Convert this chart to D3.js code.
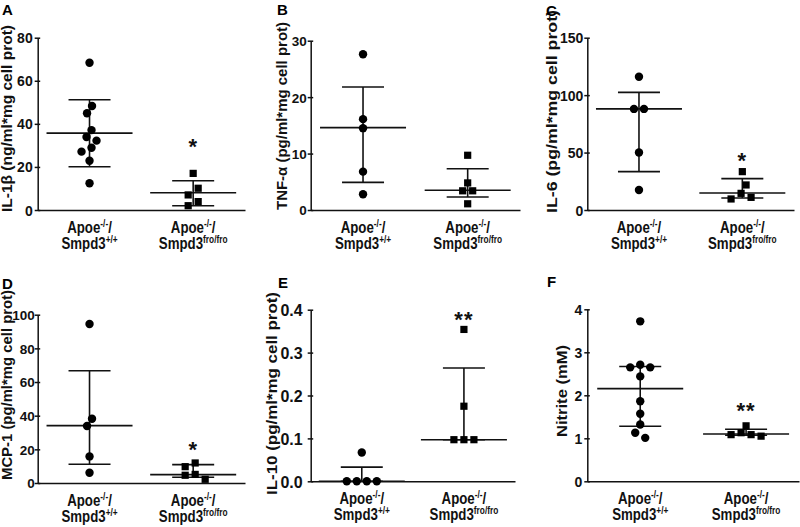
<!DOCTYPE html>
<html><head><meta charset="utf-8">
<script src="https://cdn.jsdelivr.net/npm/d3@7/dist/d3.min.js"></script>
<style>body{margin:0;background:#fff}svg{display:block}</style>
</head><body>
<svg id="chart" width="800" height="527"></svg>
<script>
// ---------------- data ----------------
const panelLetters = ["A", "B", "C", "D", "E", "F"];
const yLabels = [
  "IL-1β (ng/ml*mg cell prot)",
  "TNF-α (pg/ml*mg cell prot)",
  "IL-6 (pg/ml*mg cell prot)",
  "MCP-1 (pg/ml*mg cell prot)",
  "IL-10 (pg/ml*mg cell prot)",
  "Nitrite (mM)"
];
const yTicks = [
  [0, 20, 40, 60, 80],
  [0, 10, 20, 30],
  [0, 50, 100, 150],
  [0, 20, 40, 60, 80, 100],
  [0, 0.1, 0.2, 0.3, 0.4],
  [0, 1, 2, 3, 4]
];
const yTickFormats = ["d", "d", "d", "d", ".1f", "d"];
const genotypeBase = ["Apoe", "Smpd3"];
const apoeSup = ["-/-", "-/-"];
const smpd3Sup = ["+/+", "fro/fro"];

const wildtypeValues = [
  [68.4, 48.3, 44.9, 37.1, 33.9, 32.2, 28.9, 27.1, 22.9, 12.4],
  [27.6, 16.1, 14.5, 6.8, 2.8],
  [116, 88, 88, 50, 17.4],
  [94.5, 38.2, 33.9, 15.8, 6.1],
  [0.067, 0, 0, 0, 0],
  [3.72, 2.71, 2.65, 2.65, 2.44, 1.86, 1.57, 1.32, 1.13, 1.01]
];
const knockoutValues = [
  [17.0, 10.1, 7.0, 3.9, 2.0],
  [9.7, 4.8, 3.4, 3.4, 1.1],
  [33.4, 21.8, 14.5, 11.0, 9.6],
  [11.9, 9.7, 5.1, 4.6, 2.2],
  [0.354, 0.175, 0.097, 0.097, 0.097],
  [1.29, 1.13, 1.085, 1.085, 1.05]
];
// summary lines: [centre, lower bar, upper bar]
const wildtypeSummary = [
  [35.7, 20.1, 51.2],
  [14.6, 4.9, 21.8],
  [88, 33.4, 102.4],
  [34.1, 11.1, 66.7],
  [0, 0, 0.033],
  [2.155, 1.28, 2.67]
];
const knockoutSummary = [
  [8.0, 2.0, 13.6],
  [3.5, 2.3, 7.3],
  [14.8, 10.5, 27.3],
  [5.0, 3.4, 10.9],
  [0.097, 0.097, 0.264],
  [1.10, 1.07, 1.21]
];
const significance = ["*", "", "*", "*", "**", "**"];
const significanceAt = [31.6, null, 46.4, 22.4, 0.388, 1.75];

// ---------------- layout ----------------
const layout = [
  {x0: 37.7,  x1: 245, top: 37.7,  bot: 210,   lx: 2,   ly: 15,  labX: 12,  labB: 212, labLen: 187, tfs: 14, tgap: 5},
  {x0: 310.7, x1: 520, top: 40.7,  bot: 210,   lx: 277, ly: 15,  labX: 287, labB: 210, labLen: 188, tfs: 13.5, tgap: 4},
  {x0: 587.3, x1: 794, top: 37.7,  bot: 210,   lx: 546, ly: 16,  labX: 557, labB: 213, labLen: 203, tfs: 14, tgap: 4},
  {x0: 37.7,  x1: 245, top: 314.7, bot: 483,   lx: 2,   ly: 289, labX: 11.5, labB: 480, labLen: 190, tfs: 13.5, tgap: 3},
  {x0: 310.7, x1: 515, top: 309.7, bot: 481.3, lx: 278, ly: 288, labX: 277, labB: 495, labLen: 203, tfs: 16, tgap: 8},
  {x0: 587.3, x1: 799, top: 309.3, bot: 481.3, lx: 547, ly: 287, labX: 567, labB: 437, labLen: 92,  tfs: 14, tgap: 5}
];
const FONT = "'Liberation Sans', Arial, Helvetica, sans-serif";
const INK = "#111";

const svg = d3.select("#chart");

function swarm(vals, y, step, minDist) {
  const placed = [];
  const order = vals.map((v, i) => i).sort((a, b) => vals[b] - vals[a]);
  order.forEach(idx => {
    const py = y(vals[idx]);
    let chosen = 0;
    for (let k = 0; k < 30; k++) {
      const cands = k === 0 ? [0] : [-k * step, k * step];
      let ok = null;
      for (const c of cands) {
        if (placed.every(p => Math.hypot(p.dx - c, p.py - py) >= minDist)) { ok = c; break; }
      }
      if (ok !== null) { chosen = ok; break; }
    }
    placed.push({dx: chosen, py, v: vals[idx]});
  });
  const sorted = placed.slice().sort((a, b) => a.py - b.py);
  const comps = [];
  let comp = [sorted[0]];
  for (let j = 1; j < sorted.length; j++) {
    if (sorted[j].py - sorted[j - 1].py < minDist) comp.push(sorted[j]);
    else { comps.push(comp); comp = [sorted[j]]; }
  }
  comps.push(comp);
  comps.forEach(c => { const m = d3.mean(c, p => p.dx); c.forEach(p => p.dx -= m); });
  return placed;
}

layout.forEach((L, i) => {
  const g = svg.append("g");
  const x = d3.scaleBand().domain([0, 1]).range([L.x0, L.x1]);
  const cx = k => x(k) + x.bandwidth() / 2;
  const y = d3.scaleLinear().domain([0, d3.max(yTicks[i])]).range([L.bot, L.top]);

  // y axis
  const ay = g.append("g").attr("transform", `translate(${L.x0},0)`)
    .call(d3.axisLeft(y).tickValues(yTicks[i]).tickSizeOuter(0).tickSizeInner(3)
      .tickFormat(d3.format(yTickFormats[i])));
  ay.select(".domain").attr("stroke", INK).attr("stroke-width", 1.5);
  ay.selectAll(".tick line").attr("x1", 2.5).attr("x2", -3).attr("stroke", INK).attr("stroke-width", 1.5);
  ay.selectAll(".tick text").attr("x", -L.tgap).attr("dy", "0.36em")
    .style("font-family", FONT).style("font-size", L.tfs + "px").style("font-weight", "bold").attr("fill", INK);

  // x axis
  const ax = g.append("g").attr("transform", `translate(0,${L.bot})`)
    .call(d3.axisBottom(x).tickSize(0).tickFormat(""));
  ax.select(".domain").attr("stroke", INK).attr("stroke-width", 1.5);

  // category labels
  [0, 1].forEach(k => {
    const lab = g.append("g").attr("transform", `translate(${cx(k)},${L.bot + 23}) scale(0.83,1)`);
    const t1 = lab.append("text").attr("text-anchor", "middle")
      .style("font-family", FONT).style("font-weight", "bold").style("font-size", "16px").attr("fill", INK);
    t1.append("tspan").text(genotypeBase[0]);
    t1.append("tspan").attr("dy", -6).style("font-size", "10px").text(apoeSup[k]);
    t1.append("tspan").attr("dy", 6).text("/");
    const t2 = lab.append("text").attr("text-anchor", "middle").attr("y", 16)
      .style("font-family", FONT).style("font-weight", "bold").style("font-size", "16px").attr("fill", INK);
    t2.append("tspan").text(genotypeBase[1]);
    t2.append("tspan").attr("dy", -6).style("font-size", "10px").text(smpd3Sup[k]);
  });

  // y label
  g.append("text")
    .attr("transform", `translate(${L.labX},${L.labB}) rotate(-90)`)
    .attr("text-anchor", "start")
    .attr("textLength", L.labLen).attr("lengthAdjust", "spacingAndGlyphs")
    .style("font-family", FONT).style("font-weight", "bold").style("font-size", "14px").attr("fill", INK)
    .text(yLabels[i]);

  // panel letter
  g.append("text").attr("x", L.lx).attr("y", L.ly)
    .style("font-family", FONT).style("font-weight", "bold").style("font-size", "15px").attr("fill", "#000")
    .text(panelLetters[i]);

  // summary lines
  [wildtypeSummary[i], knockoutSummary[i]].forEach((s, k) => {
    const c = cx(k);
    const sg = g.append("g").attr("stroke", INK).attr("stroke-width", 1.6);
    sg.append("line").attr("x1", c - 43).attr("x2", c + 43).attr("y1", y(s[0])).attr("y2", y(s[0]));
    sg.append("line").attr("x1", c).attr("x2", c).attr("y1", y(s[1])).attr("y2", y(s[2]));
    sg.append("line").attr("x1", c - 21).attr("x2", c + 21).attr("y1", y(s[1])).attr("y2", y(s[1]));
    sg.append("line").attr("x1", c - 21).attr("x2", c + 21).attr("y1", y(s[2])).attr("y2", y(s[2]));
  });

  // points
  const wt = swarm(wildtypeValues[i], y, 5, 8.5);
  g.append("g").selectAll("circle").data(wt).join("circle")
    .attr("cx", d => cx(0) + d.dx).attr("cy", d => d.py).attr("r", 4.2).attr("fill", "#000");
  const ko = swarm(knockoutValues[i], y, 5, 8.5);
  g.append("g").selectAll("rect").data(ko).join("rect")
    .attr("x", d => cx(1) + d.dx - 3.6).attr("y", d => d.py - 3.6)
    .attr("width", 7.2).attr("height", 7.2).attr("fill", "#000");

  // significance
  if (significance[i]) {
    const fs = 22;
    g.append("text").attr("x", cx(1)).attr("y", y(significanceAt[i]) + 0.53 * fs)
      .attr("text-anchor", "middle")
      .style("font-family", FONT).style("font-weight", "bold").style("font-size", fs + "px")
      .style("letter-spacing", "1px").attr("fill", INK)
      .text(significance[i]);
  }
});
</script>
</body></html>
